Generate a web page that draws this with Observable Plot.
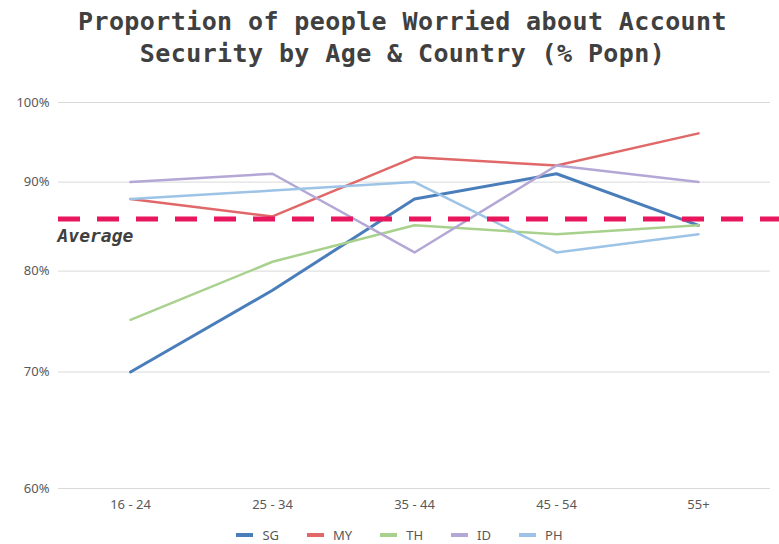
<!DOCTYPE html>
<html>
<head>
<meta charset="utf-8">
<script src="https://cdn.jsdelivr.net/npm/d3@7"></script>
<script src="https://cdn.jsdelivr.net/npm/@observablehq/plot@0.6"></script>
<style>
  html, body { margin: 0; padding: 0; background: #fff; }
  #wrap { width: 779px; height: 544px; position: relative; overflow: hidden; }
  #title {
    height: 80px; box-sizing: border-box; padding-top: 6px; padding-left: 26px;
    text-align: center; font-family: "DejaVu Sans Mono", monospace; font-weight: bold;
    font-size: 25px; line-height: 32px; color: #404040; letter-spacing: 0.4px;
  }
  #legend {
    position: absolute; left: 0; right: 0; top: 527px; height: 16px;
    display: flex; justify-content: center; align-items: center;
    font-family: "Noto Sans", sans-serif; font-size: 13px; line-height: 16px; color: #595959; padding-left: 20px;
  }
  .item { display: flex; align-items: center; margin: 0 14px; }
  .sw { width: 17px; height: 4px; margin-right: 9px; }
  svg { display: block; }
</style>
</head>
<body>
<div id="wrap">
  <div id="title">Proportion of people Worried about Account<br>Security by Age &amp; Country (% Popn)</div>
  <div id="chart"></div>
  <div id="legend"></div>
</div>
<script>
// Age bands and share (%) of each country's population worried about account security
const ages = ["16 - 24", "25 - 34", "35 - 44", "45 - 54", "55+"];
const sg = [70, 78, 88, 91, 85];
const my = [88, 86, 93, 92, 96];
const th = [75, 81, 85, 84, 85];
const idn = [90, 91, 82, 92, 90];
const ph = [88, 89, 90, 82, 84];
const average = 85.7;
const yTicks = [60, 70, 80, 90, 100];

const countries = ["SG", "MY", "TH", "ID", "PH"];
const colors = ["#4a7ebb", "#e06868", "#a9d18e", "#b4a7d6", "#9dc3e6"];
const widths = [3, 2.5, 2.5, 2.5, 2.5];
const series = [sg, my, th, idn, ph];

const rows = [];
series.forEach((vals, i) => {
  vals.forEach((v, j) => rows.push({country: countries[i], age: ages[j], value: v}));
});

const chart = Plot.plot({
  width: 779,
  height: 440,
  marginTop: 22,
  marginBottom: 32,
  marginLeft: 58,
  marginRight: 9,
  style: {fontFamily: "Noto Sans, sans-serif", fontSize: "13px", color: "#595959"},
  x: {type: "point", domain: ages, padding: 0.5, label: null},
  y: {type: "log", domain: [60, 100], label: null},
  color: {domain: countries, range: colors},
  marks: [
    Plot.gridY(yTicks, {stroke: "#d9d9d9", strokeOpacity: 1, strokeWidth: 1}),
    Plot.axisY(yTicks, {tickSize: 0, tickPadding: 9, tickFormat: d => d + "%", label: null}),
    Plot.axisX({tickSize: 0, tickPadding: 11, label: null}),
    ...countries.map((c, i) => Plot.line(rows.filter(r => r.country === c), {
      x: "age", y: "value", stroke: colors[i], strokeWidth: widths[i]
    })),
    Plot.ruleY([average], {stroke: "#e8175d", strokeWidth: 5, strokeDasharray: "22,17", insetRight: -12}),
    Plot.text([average], {
      y: d => d, frameAnchor: "left", dy: 17, dx: -1, text: () => "Average", textAnchor: "start",
      fontFamily: "DejaVu Sans Mono, monospace", fontWeight: "bold", fontStyle: "italic",
      fontSize: 18, fill: "#404040", letterSpacing: "1.2px"
    })
  ]
});
document.getElementById("chart").appendChild(chart);

const legend = document.getElementById("legend");
countries.forEach((c, i) => {
  const item = document.createElement("div");
  item.className = "item";
  item.innerHTML = `<span class="sw" style="background:${colors[i]}"></span><span>${c}</span>`;
  legend.appendChild(item);
});
</script>
</body>
</html>
